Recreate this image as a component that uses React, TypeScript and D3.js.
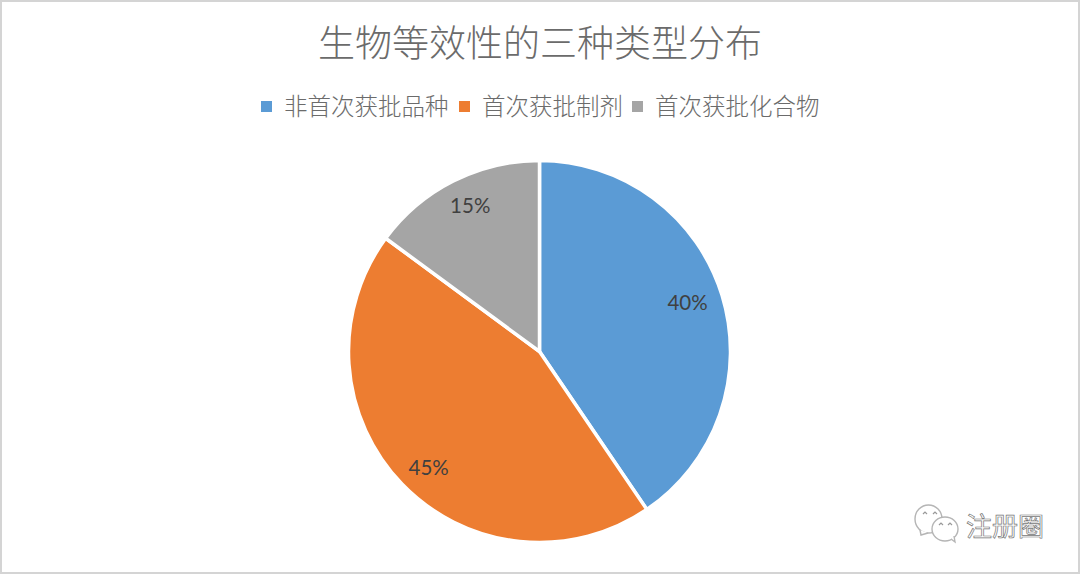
import React from 'react';
import * as d3 from 'd3';

const categories = ['非首次获批品种', '首次获批制剂', '首次获批化合物'];
const shares = [40.5, 44.6, 14.9];
const shareLabels = ['40%', '45%', '15%'];
const colors = ['#5B9BD5', '#ED7D31', '#A5A5A5'];

const WIDTH = 1080;
const HEIGHT = 574;
const CJK = '"Noto Sans CJK SC", sans-serif';

// legend x positions follow the text runs in the reference
const legendX = [261, 459, 632];
// nudges for the pie labels, they don't sit exactly on the slice bisector
const labelNudge = [[-3, -2], [3, 7], [2, -5]];

const App: React.FC = () => {
  const radius = 191;
  const pie = d3.pie<number>().sort(null).value(d => d);
  const slices = pie(shares);
  const arc = d3.arc<d3.PieArcDatum<number>>().innerRadius(0).outerRadius(radius);
  const labelArc = d3.arc<d3.PieArcDatum<number>>().innerRadius(158).outerRadius(158);

  return (
    <svg
      width={WIDTH}
      height={HEIGHT}
      viewBox={`0 0 ${WIDTH} ${HEIGHT}`}
      style={{ position: 'absolute', left: 0, top: 0, background: '#fff' }}
    >
      <rect x={1} y={1} width={WIDTH - 2} height={HEIGHT - 2} fill="#fff" stroke="#d4d4d4" strokeWidth={2} />

      <text
        x={540}
        y={57}
        textAnchor="middle"
        fontFamily={CJK}
        fontWeight={300}
        fontSize={37}
        fill="#6b6b6b"
      >
        生物等效性的三种类型分布
      </text>

      {categories.map((c, i) => (
        <g key={c} transform={`translate(${legendX[i]},0)`}>
          <rect x={0} y={101} width={11} height={11} fill={colors[i]} />
          <text
            x={23}
            y={115}
            fontFamily={CJK}
            fontWeight={300}
            fontSize={23.5}
            fill="#6b6b6b"
          >
            {c}
          </text>
        </g>
      ))}

      <g transform="translate(539.5,351.5)">
        {slices.map((s, i) => (
          <path key={i} d={arc(s) ?? ''} fill={colors[i]} stroke="#fff" strokeWidth={3.5} />
        ))}
        {slices.map((s, i) => {
          const [x, y] = labelArc.centroid(s);
          return (
            <text
              key={i}
              x={x + labelNudge[i][0]}
              y={y + labelNudge[i][1]}
              dy="0.35em"
              textAnchor="middle"
              fontFamily="Lato, sans-serif"
              fontSize={20.5}
              fill="#404040"
            >
              {shareLabels[i]}
            </text>
          );
        })}
      </g>

      {/* watermark */}
      <g fill="#fff" stroke="#b5b5b5" strokeWidth={1.4}>
        <ellipse cx={928.5} cy={519} rx={13.5} ry={14} />
        <path d="M920 530 L921 535 L928 533" />
        <ellipse cx={945} cy={529} rx={13} ry={12} />
        <path d="M951 539 L955 542 L954 536" />
      </g>
      <g fill="none" stroke="#999" strokeWidth={1.2}>
        <path d="M923 514 l2 -2 l2 2" />
        <path d="M933 514 l2 -2 l2 2" />
        <path d="M939 525 l2 -2 l2 2" />
        <path d="M948 525 l2 -2 l2 2" />
      </g>
      <text
        x={966}
        y={536}
        fontFamily={CJK}
        fontSize={26}
        fill="#fff"
        stroke="#777"
        strokeWidth={0.7}
      >
        注册圈
      </text>
    </svg>
  );
};

export default App;
